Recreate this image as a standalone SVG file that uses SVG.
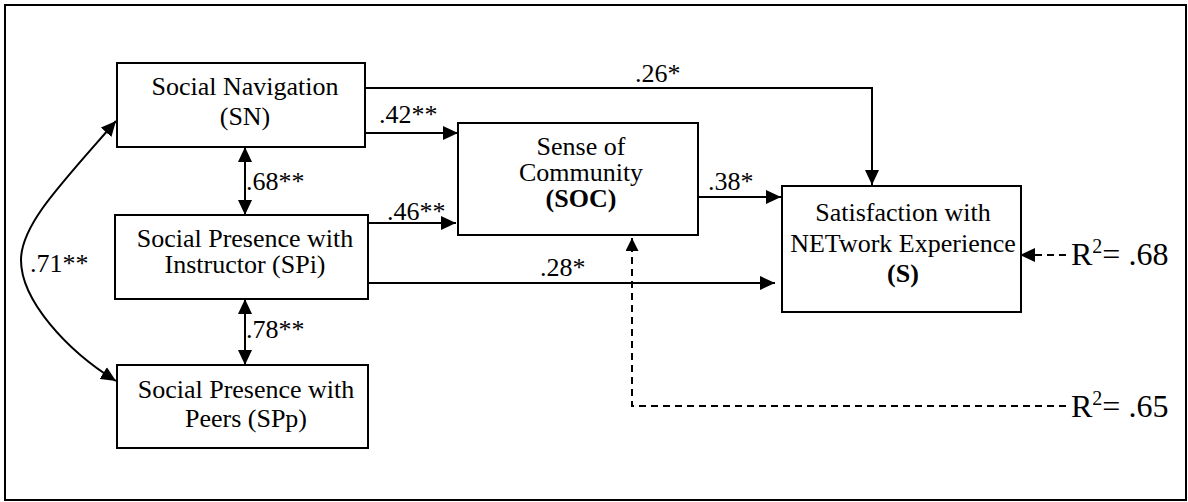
<svg xmlns="http://www.w3.org/2000/svg" width="1188" height="502" viewBox="0 0 1188 502">
<style>
.box{fill:#fff;stroke:#000;stroke-width:2}
.ln{fill:none;stroke:#000;stroke-width:2}
.dash{fill:none;stroke:#000;stroke-width:2;stroke-dasharray:7 5}
text{font-family:"Liberation Serif","Times New Roman",serif;fill:#000}
.t{font-size:26px;text-anchor:middle}
.c{font-size:26px}
.r{font-size:32px}
.b{font-weight:bold}
</style>
<defs>
<marker id="ah" markerUnits="userSpaceOnUse" markerWidth="16" markerHeight="14" refX="15" refY="7" orient="auto-start-reverse">
<path d="M0,0 L15,7 L0,14 Z" fill="#000"/>
</marker>
<marker id="ahs" markerUnits="userSpaceOnUse" markerWidth="14" markerHeight="14" refX="13" refY="6.5" orient="auto-start-reverse">
<path d="M0,0 L13,6.5 L0,13 Z" fill="#000"/>
</marker>
</defs>
<rect x="5" y="5" width="1181" height="495" fill="#fff" stroke="#000" stroke-width="2"/>
<g id="connectors">
<path class="ln" d="M365,88 H872 V185" marker-end="url(#ah)"/>
<path class="ln" d="M365,133 H458" marker-end="url(#ah)"/>
<path class="ln" d="M368,223 H456" marker-end="url(#ah)"/>
<path class="ln" d="M698,197 H781" marker-end="url(#ah)"/>
<path class="ln" d="M368,283 H775" marker-end="url(#ah)"/>
<path class="ln" d="M245,147 V215" marker-start="url(#ah)" marker-end="url(#ah)"/>
<path class="ln" d="M245,299 V365" marker-start="url(#ah)" marker-end="url(#ah)"/>
<path class="ln" d="M116,121 C60,185 21,225 21,260 C21,300 66,350 116,381" marker-start="url(#ah)" marker-end="url(#ah)"/>
<path class="dash" d="M1066,406 H632 V238" marker-end="url(#ahs)"/>
<path class="dash" d="M1066,255 H1020" marker-end="url(#ah)"/>
<text class="c" x="635" y="82">.26*</text>
<text class="c" x="379" y="123">.42**</text>
<text class="c" x="387" y="220">.46**</text>
<text class="c" x="708" y="190">.38*</text>
<text class="c" x="540" y="276">.28*</text>
<text class="c" x="246" y="190">.68**</text>
<text class="c" x="246" y="338">.78**</text>
<text class="c" x="30" y="272">.71**</text>
<text class="r" x="1071" y="265">R<tspan font-size="20" dy="-12">2</tspan><tspan dy="12">= .68</tspan></text>
<text class="r" x="1071" y="417">R<tspan font-size="20" dy="-12">2</tspan><tspan dy="12">= .65</tspan></text>
</g>
<g id="SN">
<rect class="box" x="117" y="63" width="248" height="84"/>
<text class="t" x="245" y="95">Social Navigation</text>
<text class="t" x="245" y="125">(SN)</text>
</g>
<g id="SPi">
<rect class="box" x="115" y="215" width="253" height="84"/>
<text class="t" x="245" y="247">Social Presence with</text>
<text class="t" x="245" y="273">Instructor (SPi)</text>
</g>
<g id="SPp">
<rect class="box" x="117" y="365" width="251" height="83"/>
<text class="t" x="246" y="398">Social Presence with</text>
<text class="t" x="246" y="427">Peers (SPp)</text>
</g>
<g id="SOC">
<rect class="box" x="458" y="123" width="240" height="112"/>
<text class="t" x="581" y="155">Sense of</text>
<text class="t" x="581" y="181">Community</text>
<text class="t b" x="581" y="207">(SOC)</text>
</g>
<g id="S">
<rect class="box" x="782" y="186" width="239" height="126"/>
<text class="t" x="903" y="221">Satisfaction with</text>
<text class="t" x="903" y="252">NETwork Experience</text>
<text class="t b" x="903" y="282">(S)</text>
</g>
</svg>
